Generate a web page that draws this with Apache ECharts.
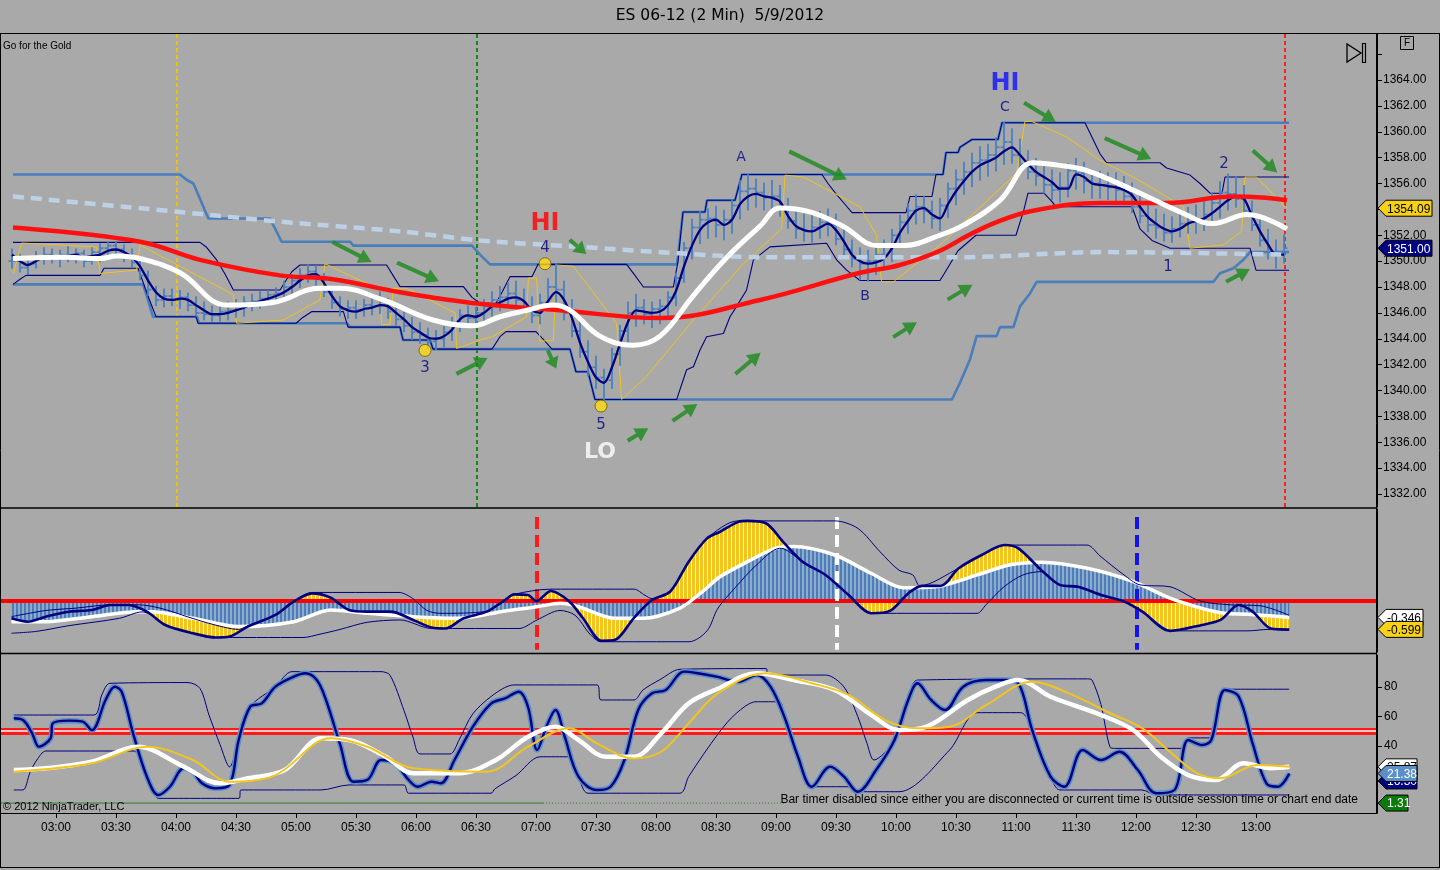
<!DOCTYPE html>
<html><head><meta charset="utf-8">
<script src="https://cdn.jsdelivr.net/npm/echarts@6/dist/echarts.min.js"></script>
<style>html,body{margin:0;padding:0;background:#A9A9A9;}#c{width:1440px;height:870px;}</style>
</head><body><div id="c"></div>
<script>
// ---------- DATA ----------
const TITLE = 'ES 06-12 (2 Min)  5/9/2012';
const timeTicks = [180,210,240,270,300,330,360,390,420,450,480,510,540,570,600,630,660,690,720,750,780];
const priceLabels = [1332,1334,1336,1338,1340,1342,1344,1346,1348,1350,1352,1354,1356,1358,1360,1362,1364];
const priceTicks = priceLabels.concat([1366]);
const stochLabels = [40,60,80];

// price bars: every 4 minutes from 02:38 (minutes since midnight)
const BAR_T0 = 158, BAR_DT = 4;
const barHigh = [
1350.9,1350.5,1350.2,1350.7,1351.0,1350.9,1350.8,1351.1,1350.9,1350.8,
1351.0,1351.3,1351.45,1351.45,1351.2,1350.9,1350.2,1349.2,1348.0,1347.8,
1347.8,1347.7,1347.5,1347.2,1346.8,1346.5,1346.6,1346.8,1347.0,1347.2,
1347.4,1347.6,1347.7,1347.9,1348.4,1348.9,1349.4,1349.7,1349.6,1349.0,
1348.0,1347.2,1346.9,1346.9,1347.0,1347.2,1347.6,1347.1,1346.6,1346.0,
1345.6,1345.2,1344.8,1344.6,1344.9,1345.6,1346.2,1346.5,1346.4,1347.0,
1347.6,1348.0,1348.3,1348.4,1347.8,1347.2,1347.4,1348.6,1349.75,1348.4,
1347.0,1345.4,1343.8,1342.6,1341.6,1343.2,1345.0,1346.8,1347.4,1347.0,
1346.8,1347.0,1347.6,1349.0,1351.4,1353.2,1353.8,1354.0,1354.2,1353.9,
1354.7,1356.2,1356.7,1356.3,1356.0,1356.2,1355.8,1354.8,1353.8,1353.6,
1353.5,1353.8,1354.0,1353.6,1352.6,1351.6,1351.0,1350.8,1351.0,1351.6,
1352.4,1353.5,1354.4,1355.1,1355.0,1354.6,1354.8,1356.0,1357.0,1357.6,
1358.3,1358.8,1359.0,1359.5,1360.7,1360.2,1359.4,1358.5,1357.9,1357.6,
1357.0,1356.8,1357.5,1357.9,1357.6,1357.0,1356.9,1356.8,1356.8,1356.5,
1356.0,1355.2,1354.5,1354.0,1353.6,1353.4,1353.7,1354.1,1354.3,1354.6,
1355.2,1356.1,1356.7,1356.5,1355.8,1354.6,1353.4,1352.4,1351.6,1352.0];
const barLow = [
1349.5,1349.2,1349.0,1349.5,1349.8,1349.9,1349.6,1350.0,1349.9,1349.6,
1349.8,1350.0,1350.3,1350.4,1350.0,1349.6,1348.6,1347.4,1346.6,1346.5,
1346.6,1346.4,1346.2,1345.8,1345.5,1345.4,1345.4,1345.5,1345.7,1345.8,
1346.2,1346.4,1346.6,1346.8,1347.0,1347.4,1348.0,1348.4,1348.2,1347.3,
1346.4,1345.8,1345.6,1345.6,1345.8,1345.9,1346.0,1345.6,1345.1,1344.6,
1344.0,1343.7,1343.3,1343.2,1343.4,1343.9,1344.6,1345.0,1345.0,1345.3,
1345.8,1346.2,1346.5,1346.4,1346.0,1345.3,1345.2,1346.2,1346.6,1345.5,
1344.2,1342.6,1341.2,1340.2,1339.3,1340.2,1342.0,1343.8,1345.0,1345.2,
1344.9,1345.2,1345.6,1346.6,1348.4,1350.2,1351.4,1351.8,1351.9,1351.7,
1352.2,1353.3,1354.0,1354.2,1354.0,1353.9,1353.5,1352.6,1351.8,1351.6,
1351.5,1351.8,1352.0,1351.3,1350.5,1349.6,1348.6,1348.5,1349.0,1349.4,
1350.0,1351.2,1352.2,1352.9,1353.0,1352.6,1352.4,1353.4,1354.4,1355.2,
1355.8,1356.3,1356.6,1357.0,1357.5,1357.6,1356.9,1356.4,1355.9,1355.3,
1354.8,1354.6,1355.0,1355.6,1355.3,1354.9,1354.9,1354.8,1354.7,1354.4,
1353.8,1353.0,1352.3,1351.8,1351.6,1351.5,1351.9,1352.2,1352.2,1352.4,
1352.8,1353.4,1354.0,1354.2,1353.6,1352.4,1351.2,1350.2,1349.5,1349.9];
const barClose = [
1350.0,1349.5,1349.8,1350.4,1350.5,1350.2,1350.5,1350.4,1350.6,1350.0,
1350.7,1351.0,1351.2,1350.9,1350.3,1349.9,1348.9,1347.8,1347.0,1347.3,
1347.0,1347.2,1346.6,1346.0,1345.9,1345.8,1346.1,1346.2,1346.5,1346.8,
1346.9,1347.1,1347.4,1347.5,1348.0,1348.5,1348.9,1349.2,1348.6,1347.6,
1346.8,1346.3,1346.4,1346.2,1346.6,1346.5,1346.9,1346.1,1345.5,1345.0,
1344.5,1344.3,1343.8,1344.0,1344.5,1345.2,1345.8,1345.6,1346.0,1346.5,
1347.0,1347.2,1347.5,1347.0,1346.4,1345.8,1346.8,1348.0,1347.8,1346.0,
1344.6,1343.0,1341.8,1341.0,1340.8,1342.8,1344.6,1346.0,1346.4,1345.9,
1346.3,1346.5,1347.2,1348.7,1351.0,1352.6,1353.2,1353.3,1352.8,1353.2,
1354.3,1355.4,1355.6,1355.3,1354.9,1355.0,1354.1,1353.1,1352.5,1352.3,
1352.6,1353.0,1352.8,1351.7,1350.9,1350.2,1349.8,1350.0,1350.5,1351.1,
1352.0,1353.0,1353.9,1354.2,1353.9,1353.3,1354.3,1355.6,1356.3,1356.9,
1357.6,1357.8,1358.2,1358.8,1359.2,1358.2,1357.5,1356.9,1356.6,1355.9,
1355.5,1355.7,1357.0,1356.8,1356.2,1356.0,1355.9,1355.7,1355.5,1355.0,
1354.2,1353.5,1352.8,1352.6,1352.2,1352.5,1352.9,1353.0,1353.2,1353.6,
1354.5,1355.3,1355.2,1354.8,1353.9,1352.8,1351.6,1350.7,1350.5,1351.0];
const navyMain = [
1350.5,1350.0,1349.7,1350.0,1350.3,1350.4,1350.3,1350.4,1350.5,1350.3,
1350.4,1350.5,1350.8,1350.9,1350.7,1350.3,1349.6,1348.5,1347.6,1347.1,
1347.0,1347.1,1347.0,1346.6,1346.2,1345.9,1345.9,1346.0,1346.2,1346.4,
1346.7,1346.9,1347.1,1347.3,1347.6,1348.0,1348.5,1348.9,1349.0,1348.3,
1347.3,1346.5,1346.2,1346.1,1346.3,1346.4,1346.6,1346.5,1346.0,1345.5,
1344.9,1344.5,1344.1,1344.0,1344.2,1344.7,1345.5,1345.8,1345.7,1346.0,
1346.5,1346.8,1347.1,1347.2,1346.9,1346.2,1346.0,1346.9,1347.6,1347.0,
1345.6,1343.7,1342.2,1341.0,1340.6,1341.8,1343.6,1345.3,1346.2,1346.1,
1346.0,1346.1,1346.6,1347.7,1349.6,1351.2,1352.4,1353.0,1353.2,1352.8,
1353.2,1354.4,1355.0,1355.2,1355.0,1354.9,1354.6,1353.5,1352.7,1352.4,
1352.3,1352.6,1352.9,1352.4,1351.5,1350.5,1350.0,1349.8,1349.9,1350.2,
1351.0,1352.2,1353.1,1353.9,1354.1,1353.6,1353.3,1354.4,1355.4,1356.2,
1356.9,1357.4,1357.7,1358.0,1358.5,1358.8,1358.2,1357.5,1356.9,1356.5,
1356.1,1355.6,1355.6,1356.7,1356.5,1356.0,1355.9,1355.8,1355.7,1355.5,
1355.1,1354.2,1353.4,1352.9,1352.5,1352.3,1352.5,1352.9,1353.1,1353.3,
1353.7,1354.2,1354.7,1355.0,1354.8,1353.5,1352.3,1351.3,1350.5,1350.5];

// [minute, value] line series of the price panel
const whiteMA = [[158.5,1350.2],[185.5,1350.3],[202,1350.2],[210.5,1350.4],[222,1350.2],[242,1349.1],[265.5,1346.6],[288.5,1346.8],[312,1347.9],[322,1347.9],[343.5,1347.0],[368.5,1345.45],[388,1345.0],[402,1345.7],[415.5,1346.2],[428.5,1346.6],[437,1346.2],[452,1344.2],[468.5,1343.5],[482,1344.2],[498.5,1347.3],[515.5,1350.3],[532,1352.7],[542,1354.1],[557,1353.8],[573.5,1352.7],[590.5,1351.2],[603.5,1351.2],[622,1352.0],[634,1352.8],[652,1354.7],[668.5,1357.6],[682,1357.4],[695.5,1357.0],[718.5,1355.5],[743.5,1353.7],[758.5,1352.9],[775.5,1353.6],[795.5,1352.5]];
const redEMA = [[158.5,1352.6],[222,1351.5],[252,1350.1],[292,1348.9],[318.5,1348.6],[352,1347.6],[392,1346.7],[432,1346.2],[482,1345.6],[532,1347.0],[582,1349.1],[602,1349.7],[622,1350.8],[635,1351.9],[650,1353.0],[668.5,1353.9],[702,1354.5],[735.5,1354.5],[768.5,1355.0],[785,1354.9],[795.5,1354.7]];
const dashedAvg = [[158.5,1355.0],[242,1353.8],[292,1353.05],[352,1352.3],[392,1351.6],[442,1351.1],[492,1350.6],[532,1350.3],[632,1350.3],[702,1350.7],[795.5,1350.5]];
const outerUp = [[158.5,1356.7],[242,1356.7],[245.5,1356.27],[248.7,1356.0],[256.2,1353.3],[287,1353.3],[292.8,1351.5],[327,1351.5],[328.7,1351.2],[388,1351.2],[392,1350.5],[397,1349.75],[490.5,1349.75],[493.5,1353.8],[504.5,1353.8],[505.5,1354.7],[519.5,1354.7],[523,1356.7],[623.5,1356.7],[625,1358.4],[631,1358.4],[632,1358.8],[638,1359.4],[651,1359.4],[653,1360.7],[796.5,1360.7]];
const outerLo = [[158.5,1348.2],[223.5,1348.2],[226,1347.0],[228.5,1345.7],[250.5,1345.7],[251.5,1345.2],[325.5,1345.2],[327,1344.9],[352,1344.9],[353.5,1343.9],[367,1343.9],[368.5,1343.2],[437,1343.2],[440,1341.45],[446,1341.45],[449.5,1339.3],[628,1339.3],[632,1340.6],[637,1342.4],[640.3,1344.2],[650.3,1344.2],[652,1344.9],[658.7,1344.9],[662,1346.5],[667,1347.5],[670.3,1348.4],[758.7,1348.4],[762,1349.06],[768.7,1349.45],[773.7,1350.1],[777,1350.7],[796.5,1350.7]];
const innerUp = [[158.5,1351.45],[252,1351.45],[255.3,1351.07],[260.3,1350.1],[264.5,1349.0],[268.7,1347.77],[292,1347.77],[295,1348.5],[298,1349.2],[302,1349.7],[345.3,1349.7],[348.5,1348.9],[352,1348.03],[383.7,1348.03],[388,1347.2],[392,1346.74],[400,1346.74],[403,1347.6],[407,1348.8],[418,1348.8],[421,1349.75],[465.3,1349.75],[469,1349.0],[473.7,1348.0],[488.7,1348.0],[491,1350.0],[493.5,1353.8],[504.5,1353.8],[505.5,1354.7],[519.5,1354.7],[523,1356.7],[563,1356.7],[566,1356.0],[570,1355.2],[575,1354.3],[578,1353.75],[605,1353.75],[607,1355.0],[618,1355.0],[620,1356.7],[623.5,1356.7],[625,1358.4],[631,1358.4],[632,1358.8],[638,1359.4],[651,1359.4],[653,1360.7],[694.5,1360.7],[702,1358.3],[705.3,1357.6],[732,1357.6],[735.3,1357.2],[747,1356.65],[752,1356.0],[757,1355.25],[763,1355.25],[764.5,1356.5],[796.5,1356.5]];
const innerLo = [[158.5,1348.2],[162,1348.6],[165,1348.9],[202,1348.9],[204,1349.45],[221,1349.45],[223,1348.6],[226,1347.3],[230,1345.7],[250,1345.7],[251,1345.2],[300,1345.2],[303,1345.6],[308,1346.1],[323.7,1346.1],[326,1344.9],[352,1344.9],[353.5,1343.9],[367,1343.9],[368.5,1343.2],[398,1343.2],[402,1344.16],[405,1344.55],[420,1344.55],[424,1343.9],[428,1343.2],[437,1343.2],[440,1341.45],[446,1341.45],[449.5,1339.3],[490.3,1339.3],[495.3,1341.6],[498.7,1341.84],[502,1343.13],[505.3,1344.16],[513.7,1344.4],[517,1345.7],[520.3,1346.5],[525.3,1347.77],[528.7,1350.1],[537,1351.1],[565.3,1351.38],[570.3,1350.1],[575.3,1349.3],[582,1348.5],[622,1348.5],[624,1349.0],[631,1350.8],[640,1352.0],[660,1352.0],[664,1354.0],[666,1355.25],[674,1355.25],[678,1354.6],[680,1354.2],[718,1354.2],[722,1352.5],[728,1351.6],[737,1351.0],[777,1351.0],[780,1349.3],[796.5,1349.3]];
const yellowTrail = [[158.7,1349.05],[162.8,1351.4],[200.3,1351.1],[202,1349.05],[220.3,1349.3],[222,1351.25],[268.7,1347.4],[270.3,1345.2],[293.7,1345.45],[312,1347.0],[314.5,1349.8],[342,1347.8],[342.8,1345.1],[347,1345.1],[348.7,1347.9],[355.3,1347.9],[379.5,1346.0],[380.3,1343.25],[392,1343.9],[398.7,1344.2],[415.3,1345.7],[416.2,1348.7],[420.3,1348.7],[422,1343.8],[428.7,1343.9],[430.3,1349.7],[438.7,1349.6],[460.3,1345.2],[462.8,1339.3],[475.3,1341.1],[498.7,1345.45],[523.7,1349.8],[542.8,1352.5],[544.5,1356.65],[553.7,1356.5],[582,1354.2],[590.3,1352.0],[592.8,1348.4],[598.7,1348.4],[622,1351.25],[660.3,1356.8],[664.5,1360.8],[667.8,1360.8],[685.3,1359.6],[702,1357.8],[718.7,1356.5],[743.7,1354.2],[747,1351.0],[763.7,1351.25],[772.8,1352.3],[774.5,1356.5],[780.3,1356.5],[795.3,1354.09]];
const priceVLines = [240.5, 390.5, 794.5];

// swing points and labels
const dotT = [424.5, 364.5, 452.5];
const dotP = [1349.8, 1343.1, 1338.8];
const annoText = ['HI','4','3','5','LO','A','B','C','HI','1','2'];
const annoT = [424.5,424.5,364.5,452.5,452,522.5,584.5,654.5,654.5,736,764];
const annoP = [1352.9,1351.0,1341.75,1337.3,1335.25,1358.05,1347.3,1361.9,1363.7,1349.5,1357.5];
const annoColor = ['#FF0000','#000080','#000080','#000080','#FFFFFF','#000080','#000080','#000080','#1010FF','#000080','#000080'];
const annoSize = [24,15,15,15,22,14,14,14,24,15,15];

// green arrows: centre (minute, price), angle (deg), length
const arrowT = [328,361,388,441,428,471,494.5,526,561,604.5,632,672,716,784.5,771];
const arrowP = [1350.7,1349.16,1341.9,1351.1,1342.4,1336.6,1338.3,1342.1,1357.4,1344.7,1347.6,1361.5,1358.7,1357.7,1348.9];
const arrowAng = [-27,-24,27,-41,-65,31,34,40,-26,32,31,-31,-24,-42,28];
const arrowLen = [44,46,35,22,20,24,30,33,64,28,29,37,51,33,27];

// MACD panel
const macdNavy = [[157.75,-0.365],[165.75,-0.436],[174.95,-0.33],[186.45,-0.225],[197.9,-0.19],[207.1,-0.084],[216.3,-0.084],[225.45,-0.225],[234.65,-0.506],[248.4,-0.68],[259.9,-0.77],[266.8,-0.75],[275.95,-0.54],[289.75,-0.295],[298.9,-0.01],[308.1,0.16],[317.3,0.07],[326.5,-0.19],[335.65,-0.225],[347.15,-0.225],[358.6,-0.40],[367.8,-0.56],[374.7,-0.58],[383.85,-0.365],[395.35,-0.225],[404.5,0.02],[409.1,0.14],[416,0.127],[420.15,0.0],[427.5,0.21],[436.65,-0.01],[443.55,-0.365],[452.75,-0.84],[459.6,-0.82],[468.8,-0.365],[478,0.02],[487.15,0.2],[496.35,0.83],[505.5,1.32],[512,1.46],[521.2,1.67],[525.75,1.69],[534.95,1.64],[544.15,1.22],[553.3,0.83],[564.8,0.55],[576.3,0.127],[587.75,-0.26],[596.95,-0.21],[606.1,0.16],[613,0.32],[622.2,0.32],[631.35,0.69],[642.85,0.97],[654.35,1.18],[661.2,1.11],[672.7,0.65],[681.9,0.34],[691.05,0.30],[702.55,0.127],[714,-0.01],[723.2,-0.225],[737,-0.63],[753,-0.506],[762.25,-0.40],[771.4,-0.084],[778.3,-0.225],[787.5,-0.58],[796.65,-0.6]];
const macdWhite = [[157.75,-0.436],[174.95,-0.436],[197.9,-0.33],[220.85,-0.225],[227.75,-0.225],[248.4,-0.365],[271.35,-0.54],[298.9,-0.436],[317.3,-0.19],[335.65,-0.26],[358.6,-0.33],[381.55,-0.365],[404.5,-0.21],[420.6,-0.12],[432.05,-0.05],[441.25,-0.12],[459.6,-0.365],[473.4,-0.365],[491.75,-0.155],[503.25,0.2],[512,0.51],[525.75,0.83],[539.5,1.11],[548.75,1.15],[569.4,0.97],[587.75,0.58],[603.85,0.28],[619.9,0.30],[640.55,0.55],[656.65,0.76],[672.7,0.82],[695.65,0.69],[718.6,0.41],[737,0.06],[753,-0.155],[764.5,-0.26],[776,-0.28],[796.65,-0.346]];
const macdUp = [[157.75,-0.33],[175,-0.2],[190,-0.15],[207,-0.08],[221,-0.08],[232,-0.15],[247,-0.35],[259,-0.5],[271.3,-0.6],[276,-0.52],[289.75,-0.29],[298.9,-0.01],[308,0.18],[351.5,0.18],[358.5,0.05],[365.5,-0.2],[372.5,-0.26],[395,-0.22],[404.5,0.02],[409,0.14],[427.5,0.25],[469,0.25],[474.5,0.12],[478,0.05],[487,0.2],[496.3,0.83],[505.5,1.32],[521,1.69],[569.5,1.69],[581,1.53],[592,1.04],[601.5,0.65],[608.4,0.55],[612,0.32],[631.3,0.69],[642.8,0.97],[654.3,1.18],[695.5,1.18],[702,0.95],[714,0.55],[722,0.34],[737,0.3],[752,0.0],[767,-0.08],[782,-0.1],[796.5,-0.3]];
const macdLo = [[157.75,-0.68],[170.4,-0.64],[186.5,-0.52],[211.7,-0.365],[223,-0.23],[227,-0.28],[234.5,-0.5],[248.4,-0.68],[257,-0.77],[303.5,-0.77],[312,-0.7],[322,-0.6],[335.5,-0.45],[352,-0.4],[367.8,-0.58],[411.5,-0.58],[420.5,-0.4],[432,-0.2],[439.5,-0.3],[447,-0.7],[452.5,-0.86],[496.5,-0.86],[505.5,-0.63],[511,-0.15],[520,0.3],[530,0.75],[541.8,1.11],[544,1.1],[553.3,0.83],[564.8,0.55],[576.3,0.127],[587.75,-0.26],[640.5,-0.26],[645,-0.08],[654,0.3],[663.5,0.55],[672.7,0.62],[682,0.34],[692,0.3],[702.5,0.12],[714,-0.01],[723,-0.225],[737,-0.63],[776,-0.63],[786,-0.6],[796.5,-0.62]];
const macdVLines = [420.5, 570.5, 720.5];

// Stochastics panel
const stochK = [[158.9,58.8],[163.5,57.6],[168.05,48.6],[171.5,39.5],[177.25,45.2],[178.4,55.4],[186.45,57.2],[193.3,56.5],[197.9,50.8],[204.8,71.2],[209.4,80.2],[212.85,76.8],[218.55,48.6],[225.45,19.2],[231.2,6.8],[236.95,12.4],[243.85,24.9],[248.4,22.6],[253,14.7],[259.9,11.3],[266.8,13.6],[271.35,44.1],[277.1,66.6],[282.85,68.9],[289.75,80.2],[298.9,87.0],[304.65,89.3],[310.4,84.7],[315,71.2],[321.9,41.8],[328.75,15.8],[335.65,17.0],[342.55,30.5],[349.45,28.3],[356.3,17.0],[360.9,12.4],[367.8,15.8],[372.4,14.7],[379.25,30.5],[388.45,53.1],[397.65,68.9],[404.5,72.3],[411.4,76.8],[416,66.6],[420.6,37.3],[425.2,53.1],[429.75,64.4],[434.35,46.3],[441.25,19.2],[450.45,10.2],[457.3,12.4],[464.2,30.5],[471.1,64.4],[478,75.7],[484.85,78.0],[494.05,90.4],[500.95,89.3],[510.15,87.0],[521.2,83.6],[530.35,88.1],[537.25,80.2],[544.15,59.9],[551,32.7],[557.9,12.4],[567.1,26.0],[574,19.2],[580.85,9.0],[590.05,23.7],[599.25,44.1],[606.1,71.2],[610.7,82.5],[617.6,71.2],[624.5,64.4],[633.65,80.2],[645.15,84.7],[654.35,84.7],[661.2,82.5],[668.1,50.8],[677.3,19.2],[684.2,12.4],[693.35,37.3],[702.55,30.5],[711.75,36.1],[720.9,23.7],[730.1,8.0],[739.25,10.2],[746.15,44.1],[753.05,40.7],[757.65,44.1],[764.5,78.0],[771.4,73.4],[778.3,41.8],[785.2,14.7],[790.9,12.4],[796.65,21.38]];
const stochWhite = [[158.9,23.7],[174.95,24.9],[197.9,29.4],[220.85,39.5],[243.85,26.0],[262.2,14.7],[275.95,18.1],[294.35,23.7],[312.7,45.2],[326.5,44.1],[344.85,32.7],[358.6,21.5],[381.55,21.5],[399.95,30.5],[416,46.3],[429.75,53.1],[441.25,44.1],[455.05,32.7],[468.8,32.7],[482.6,48.6],[496.35,68.9],[511.25,79.0],[530.35,89.3],[548.75,84.7],[569.4,78.0],[587.75,61.0],[601.55,50.8],[615.3,53.1],[635.95,71.2],[649.75,80.2],[661.2,84.7],[677.3,73.4],[700.25,62.2],[718.6,50.8],[732.4,32.7],[746.15,20.3],[759.95,17.0],[773.75,28.3],[787.5,24.9],[796.65,25.87]];
const stochYellow = [[158.9,22.6],[197.9,28.3],[225.45,39.5],[248.4,30.5],[266.8,15.8],[289.75,20.3],[317.3,45.2],[335.65,39.5],[358.6,24.9],[395.35,22.6],[416,39.5],[436.65,52.0],[450.45,41.8],[468.8,31.6],[482.6,36.1],[496.35,55.4],[511.25,76.0],[534.95,89.3],[557.9,82.5],[576.3,74.6],[594.65,57.6],[610.7,52.0],[626.8,53.1],[645.15,67.8],[668.1,83.6],[686.5,75.7],[707.15,62.2],[723.2,52.0],[737,36.1],[750.75,21.5],[762.25,18.1],[780.6,27.1],[796.65,26.0]];
const stochUp = [[158.9,61],[199,61],[203,75],[207,82.5],[246,83],[252,79],[256.5,61],[262,41],[266.8,25.8],[271.35,44.1],[277.1,66.6],[289.75,80.2],[298,90.4],[342.5,90.4],[347,88],[354,64],[358.5,46],[362,34.6],[377,34.6],[381.5,44],[388.5,62],[400,76],[409,81.4],[450.5,81.4],[452.5,71.2],[469,71.2],[473.5,78],[482,85],[492,92],[535,92.5],[536,88.1],[564.8,88.1],[574,80],[580.9,59.9],[585.5,41.8],[589,30.5],[599.25,44.1],[606.1,71.2],[610.7,84.7],[695.7,85.5],[698,84.7],[702.5,68],[707,39.2],[709.4,38.4],[743.9,38.4],[746,45.5],[757.7,45.5],[764.5,78.5],[796.6,78.5]];
const stochLo = [[158.9,10.2],[163.5,10.2],[167,22],[170.4,30.5],[175,36.6],[218.55,36.6],[225.45,19.2],[229,8],[231.2,4.5],[271.5,4.5],[272.5,10.2],[312.5,10.2],[326.5,13.6],[354,13.6],[356.3,8.0],[397.5,8.0],[399.5,11.0],[410,20],[422,32.7],[437,32.7],[441.25,19.2],[446,8.0],[492,8.0],[496.3,19.2],[511.25,48.6],[520,62],[530,70],[541.8,70],[544.15,59.9],[551,32.7],[557.9,12.4],[578,12.4],[580.85,9.0],[601.5,9.0],[626.8,37.3],[640.6,62.6],[662.4,62.6],[668,50.8],[677.3,19.2],[682,10.2],[723,10.2],[730,6.8],[796.6,6.8]];
const greenSolid = [[152.5,1.31],[423.5,1.31]];
const greenDotted = [[423.5,1.31],[544,1.31]];

// right-axis value flags
const priceFlags = [{v:1354.09, bg:'#F7D117', fg:'#000'}, {v:1351.00, bg:'#000080', fg:'#fff'}];
const macdFlags = [{v:-0.346, t:'-0.346', bg:'#FFFFFF', fg:'#000'}, {v:-0.599, t:'-0.599', bg:'#F7D117', fg:'#000'}];
const stochFlags = [{v:25.87, t:'25.87', bg:'#FFFFFF', fg:'#000'}, {v:16.3, t:'16.30', bg:'#000080', fg:'#fff'}, {v:21.38, t:'21.38', bg:'#5B8FC9', fg:'#fff'}, {v:1.31, t:'1.31', bg:'#0A7A0A', fg:'#fff'}];

// ---------- CHART ----------
const X_MIN = 152.5, X_MAX = 840.5;
const fmtT = v => { const h = Math.floor(v/60), m = Math.round(v - h*60); return String(h).padStart(2,'0') + ':' + String(m).padStart(2,'0'); };
const FONT = 'Liberation Sans';
const NAVY = '#000080', STEEL = '#4A7EBB';

function stripes(c1, w1, c2, w2) {
  const cv = document.createElement('canvas'); cv.width = w1 + w2; cv.height = 8;
  const g = cv.getContext('2d'); g.fillStyle = c1; g.fillRect(0, 0, w1, 8);
  if (c2) { g.fillStyle = c2; g.fillRect(w1, 0, w2, 8); }
  return {image: cv, repeat: 'repeat'};
}
const yellowPat = stripes('#F2C51E', 3, '#FFF4BE', 1);
const steelPat = stripes('#4A7EBA', 2, '#8FAACB', 2);

const barData = barHigh.map((h, i) => {
  const o = i > 0 ? barClose[i-1] : barClose[0];
  return [BAR_T0 + i*BAR_DT, barLow[i], h, barClose[i], Math.min(h, Math.max(barLow[i], o))];
});
const navyData = navyMain.map((v, i) => [BAR_T0 + i*BAR_DT, v]);

function arrowPath(L) {
  const h = Math.min(13, L*0.55);
  return `path://M0,5.5 L${L-h},5.5 L${L-h},0 L${L},7.5 L${L-h},15 L${L-h},9.5 L0,9.5 Z`;
}

const lineS = (data, xi, color, width, z, extra) => Object.assign({
  type:'line', xAxisIndex:xi, yAxisIndex:xi, data, showSymbol:false, symbol:'none', silent:true, z,
  lineStyle:{color, width}, animation:false
}, extra || {});

const chart = echarts.init(document.getElementById('c'));
const option = {
  backgroundColor:'#A9A9A9',
  animation:false,
  grid:[
    {left:1, right:63, top:34, height:473, outerBoundsMode:'none'},
    {left:1, right:63, top:509, height:143, outerBoundsMode:'none'},
    {left:1, right:63, top:655, height:158, outerBoundsMode:'none'}
  ],
  xAxis:[
    {type:'value', gridIndex:0, min:X_MIN, max:X_MAX, show:false},
    {type:'value', gridIndex:1, min:X_MIN, max:X_MAX, show:false},
    {type:'value', gridIndex:2, min:X_MIN, max:X_MAX, splitLine:{show:false},
      axisLine:{show:true, onZero:false, lineStyle:{color:'#000', width:1}},
      axisTick:{show:true, customValues:timeTicks, length:5, lineStyle:{color:'#000'}},
      axisLabel:{customValues:timeTicks, formatter:fmtT, color:'#000', fontSize:12, fontFamily:FONT, margin:9}}
  ],
  yAxis:[
    {type:'value', gridIndex:0, position:'right', min:1330.995, max:1367.556, splitLine:{show:false},
      axisLine:{show:true, lineStyle:{color:'#000'}},
      axisTick:{show:true, customValues:priceTicks, length:5, lineStyle:{color:'#000'}},
      axisLabel:{customValues:priceLabels, formatter:v => v.toFixed(2), color:'#000', fontSize:12, fontFamily:FONT, margin:6}},
    {type:'value', gridIndex:1, position:'right', min:-1.076, max:1.941, splitLine:{show:false},
      axisLine:{show:true, lineStyle:{color:'#000'}}, axisTick:{show:false}, axisLabel:{show:false}},
    {type:'value', gridIndex:2, position:'right', min:-5.42, max:101.69, splitLine:{show:false},
      axisLine:{show:true, lineStyle:{color:'#000'}},
      axisTick:{show:true, customValues:stochLabels, length:5, lineStyle:{color:'#000'}},
      axisLabel:{customValues:stochLabels, color:'#000', fontSize:12, fontFamily:FONT, margin:7}}
  ],
  series:[
    // ---- price panel ----
    lineS(outerUp, 0, STEEL, 2.6, 3),
    lineS(outerLo, 0, STEEL, 2.6, 3),
    lineS(innerUp, 0, NAVY, 1.1, 3),
    lineS(innerLo, 0, NAVY, 1.1, 3),
    lineS(yellowTrail, 0, '#F0C419', 1, 3),
    {type:'custom', xAxisIndex:0, yAxisIndex:0, data:barData, silent:true, z:4, clip:true,
      renderItem:(p, api) => {
        const t = api.value(0);
        const pl = api.coord([t, api.value(1)]), ph = api.coord([t, api.value(2)]);
        const pc = api.coord([t, api.value(3)]), po = api.coord([t, api.value(4)]);
        const st = {stroke:'#4C80BE', lineWidth:1.8};
        return {type:'group', children:[
          {type:'line', shape:{x1:pl[0], y1:pl[1]+1, x2:ph[0], y2:ph[1]-1}, style:st},
          {type:'line', shape:{x1:pc[0], y1:pc[1], x2:pc[0]+3.5, y2:pc[1]}, style:st},
          {type:'line', shape:{x1:po[0]-3.5, y1:po[1], x2:po[0], y2:po[1]}, style:st}
        ]};
      }},
    lineS(navyData, 0, NAVY, 2.3, 5, {smooth:0.3}),
    lineS(dashedAvg, 0, '#BCD0E6', 4.5, 6, {smooth:0.3, lineStyle:{color:'#BCD0E6', width:4.5, type:[11,7]}}),
    lineS(redEMA, 0, '#FF1010', 4.5, 7, {smooth:0.4}),
    lineS(whiteMA, 0, '#FFFFFF', 5, 8, {smooth:0.4}),
    {type:'scatter', xAxisIndex:0, yAxisIndex:0, silent:true, z:9,
      data:dotT.map((t, i) => [t, dotP[i]]), symbol:'circle', symbolSize:12,
      itemStyle:{color:'#FFD90F', borderColor:'#6B5A00', borderWidth:1},
      markLine:{silent:true, symbol:'none', label:{show:false}, z:2,
        data:[
          {xAxis:priceVLines[0], lineStyle:{color:'#F2C200', type:[4,3], width:2}},
          {xAxis:priceVLines[1], lineStyle:{color:'#128A12', type:[4,3], width:2}},
          {xAxis:priceVLines[2], lineStyle:{color:'#FF2020', type:[4,3], width:2}}
        ]}},
    {type:'scatter', xAxisIndex:0, yAxisIndex:0, silent:true, z:9, symbolKeepAspect:false,
      itemStyle:{color:'#1A8A1A'},
      data:arrowT.map((t, i) => ({value:[t, arrowP[i]], symbol:arrowPath(arrowLen[i]), symbolSize:[arrowLen[i], 15], symbolRotate:arrowAng[i]}))},
    {type:'scatter', xAxisIndex:0, yAxisIndex:0, silent:true, z:10, symbolSize:1, itemStyle:{color:'rgba(0,0,0,0)'},
      data:annoText.map((s, i) => ({value:[annoT[i], annoP[i]], label:{show:true, position:'inside', formatter:s,
        color:annoColor[i], fontSize:annoSize[i], fontWeight:(s === 'HI' || s === 'LO') ? 'bold' : 'normal', fontFamily:'DejaVu Sans'}}))},

    // ---- MACD panel ----
    {type:'custom', xAxisIndex:1, yAxisIndex:1, data:[[500, 0]], silent:true, z:2, clip:true,
      renderItem:(p, api) => {
        const pts = macdNavy.map(q => api.coord(q)).concat(macdWhite.slice().reverse().map(q => api.coord(q)));
        return {type:'polygon', shape:{points:pts}, style:{fill:yellowPat}};
      }},
    {type:'custom', xAxisIndex:1, yAxisIndex:1, data:[[500, 0]], silent:true, z:3, clip:true,
      renderItem:(p, api) => {
        const a = macdWhite[0][0], b = macdWhite[macdWhite.length-1][0];
        const pts = macdWhite.map(q => api.coord(q)).concat([api.coord([b, 0]), api.coord([a, 0])]);
        return {type:'polygon', shape:{points:pts}, style:{fill:steelPat}};
      }},
    lineS(macdWhite, 1, '#FFFFFF', 3.5, 5, {smooth:0.3}),
    lineS(macdUp, 1, NAVY, 1, 5, {smooth:0.3}),
    lineS(macdLo, 1, NAVY, 1, 5, {smooth:0.3}),
    lineS(macdNavy, 1, NAVY, 2.6, 6, {smooth:0.3,
      markLine:{silent:true, symbol:'none', label:{show:false}, z:4,
        data:[
          {yAxis:0, lineStyle:{color:'#FF0000', width:4, type:'solid'}},
          [{coord:[macdVLines[0], 1.77], lineStyle:{color:'#FF1A1A', width:4, type:[12,6]}}, {coord:[macdVLines[0], -1.03]}],
          [{coord:[macdVLines[1], 1.77], lineStyle:{color:'#FFFFFF', width:4, type:[12,6]}}, {coord:[macdVLines[1], -1.03]}],
          [{coord:[macdVLines[2], 1.77], lineStyle:{color:'#1414E6', width:4, type:[12,6]}}, {coord:[macdVLines[2], -1.03]}]
        ]}}),

    // ---- Stochastics panel ----
    lineS(stochLo, 2, NAVY, 1, 3, {smooth:0.3,
      markLine:{silent:true, symbol:'none', label:{show:false}, z:1,
        data:[{yAxis:50, lineStyle:{color:'#FF1A1A', width:7, type:'solid'}}]}}),
    lineS(stochUp, 2, NAVY, 1, 3, {smooth:0.3,
      markLine:{silent:true, symbol:'none', label:{show:false}, z:2,
        data:[{yAxis:50, lineStyle:{color:'#FFFFFF', width:1.6, type:'solid'}}]}}),
    lineS(greenSolid, 2, '#2E7D2E', 1, 3),
    lineS(greenDotted, 2, '#2E7D2E', 1, 3, {lineStyle:{color:'#2E7D2E', width:1, type:[1,2]}}),
    lineS(stochK, 2, '#5B8FC9', 5.5, 4, {smooth:0.35}),
    lineS(stochK, 2, NAVY, 2.4, 5, {smooth:0.35}),
    lineS(stochWhite, 2, '#FFFFFF', 4.5, 6, {smooth:0.35}),
    lineS(stochYellow, 2, '#F2C51E', 2, 7, {smooth:0.35})
  ]
};
chart.setOption(option);

// ---------- decorations placed from axis values ----------
function flag(axisIdx, val, txt, bg, fg, w) {
  const y = chart.convertToPixel({yAxisIndex:axisIdx}, val);
  const x0 = 1378, h = 8;
  return {type:'group', silent:true, zlevel:1, z:50, children:[
    {type:'polygon', zlevel:1, shape:{points:[[x0, y], [x0+8, y-h], [x0+8+w, y-h], [x0+8+w, y+h], [x0+8, y+h]]},
      style:{fill:bg, stroke:'#000', lineWidth:1}},
    {type:'text', zlevel:1, style:{text:txt, x:x0+9, y:y+1, verticalAlign:'middle', fill:fg, fontSize:12, fontFamily:FONT}}
  ]};
}
const L = (x1, y1, x2, y2, w) => ({type:'line', silent:true, z:40, shape:{x1, y1, x2, y2}, style:{stroke:'#000', lineWidth:w || 1}});
const T = (text, x, y, size, align, family) => ({type:'text', silent:true, z:45, style:{text, x, y, fontSize:size, fontFamily:family || FONT, fill:'#000', align:align || 'left', verticalAlign:'middle'}});

const graphics = [
  L(0, 33.5, 1440, 33.5), L(0.5, 33, 0.5, 868), L(1439.5, 33, 1439.5, 868), L(0, 867.5, 1440, 867.5),
  L(0, 508, 1377, 508, 1.5), L(0, 653.5, 1377, 653.5, 1.5), L(0, 813.5, 1377, 813.5),
  L(1376.5, 33, 1376.5, 814),
  T(TITLE, 720, 16, 15.5, 'center', 'DejaVu Sans'),
  T('Go for the Gold', 3, 46, 10),
  T('\u00A9 2012 NinjaTrader, LLC', 3, 807, 11),
  T('Bar timer disabled since either you are disconnected or current time is outside session time or chart end date', 1358, 800, 12, 'right'),
  {type:'rect', silent:true, z:45, shape:{x:1400.5, y:36.5, width:13, height:13}, style:{fill:'none', stroke:'#000', lineWidth:1}},
  T('F', 1407, 43.5, 10, 'center'),
  {type:'polygon', silent:true, z:45, shape:{points:[[1347, 44], [1347, 62], [1361, 53]]}, style:{fill:'none', stroke:'#000', lineWidth:1.3}},
  {type:'rect', silent:true, z:45, shape:{x:1362.5, y:43.5, width:3, height:19}, style:{fill:'none', stroke:'#000', lineWidth:1.2}}
];
priceFlags.forEach(f => graphics.push(flag(0, f.v, f.v.toFixed(2), f.bg, f.fg, 46)));
macdFlags.forEach(f => graphics.push(flag(1, f.v, f.t, f.bg, f.fg, 37)));
stochFlags.forEach(f => graphics.push(flag(2, f.v, f.t, f.bg, f.fg, f.t.length > 4 ? 31 : 22)));
chart.setOption({graphic:graphics});
</script></body></html>
